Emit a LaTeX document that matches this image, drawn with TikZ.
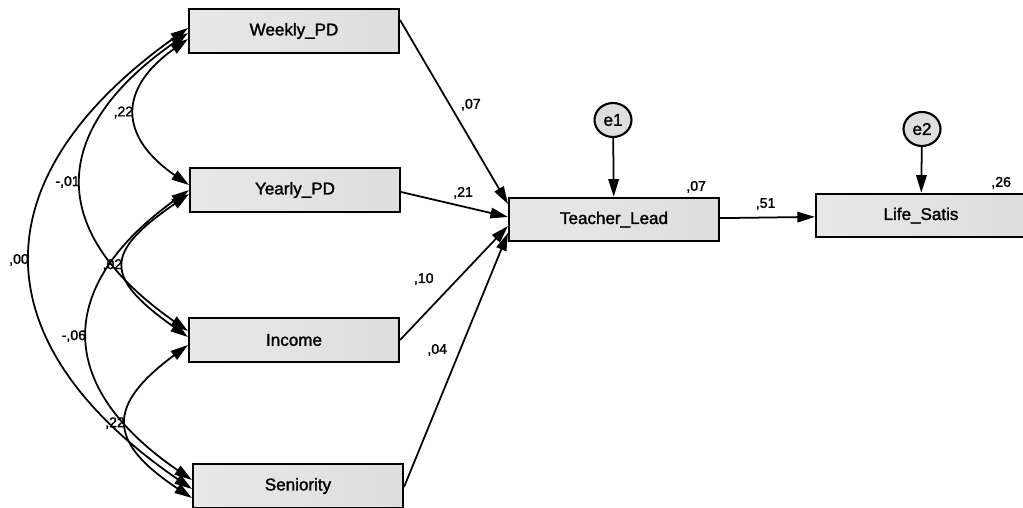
\documentclass[tikz,border=0pt]{standalone}
\usepackage{fontspec}
\setmainfont{Liberation Sans}
\newfontfamily\heavysans{Liberation Sans}[FakeBold=1.6]
\usetikzlibrary{shapes.geometric,calc,arrows.meta}

\begin{document}
\begin{tikzpicture}[x=0.02cm,y=0.02cm,>={Triangle[length=10pt,width=6pt]},
  var/.style={draw,line width=1.2pt,left color=black!9,right color=black!13,minimum width=4.2cm,minimum height=0.87cm,font=\heavysans\fontsize{9.7}{11}\selectfont},
  err/.style={draw,ellipse,line width=1.2pt,fill=black!13,minimum width=0.74cm,minimum height=0.68cm,inner sep=0pt,font=\heavysans\fontsize{9.7}{11}\selectfont},
  coef/.style={font=\heavysans\fontsize{8}{9}\selectfont,inner sep=1pt},
  link/.style={->,line width=1pt},
  cov/.style={<->,line width=1pt}]
\useasboundingbox (0,0) rectangle (1023,-507);

% observed variables
\node[var] (weekly) at (294,-31) {Weekly\_PD};
\node[var] (yearly) at (295,-190) {Yearly\_PD};
\node[var] (income) at (294,-340) {Income};
\node[var] (senior) at (298,-486) {Seniority};
\node[var] (lead) at (614,-219.5) {Teacher\_Lead};
\node[var] (life) at (921,-215.5) {Life\_Satis};

% errors
\node[err] (e1) at (613,-120) {e1};
\node[err] (e2) at (922,-129) {e2};

% paths
\draw[link] ($(weekly.east)+(0,11)$) -- node[coef,pos=0.46,right=5pt] (c1) {,07} ($(lead.west)+(0,15.5)$);
\draw[link] ($(yearly.east)+(0,-2)$) -- node[coef,pos=0.58,above=3pt] (c2) {,21} ($(lead.west)+(0,2.5)$);
\draw[link] (income.east) -- node[coef,pos=0.4,above left=4pt] (c3) {,10} ($(lead.west)+(0,-6.5)$);
\draw[link] ($(senior.east)+(0,-1)$) -- node[coef,pos=0.54,left=6pt] (c4) {,04} ($(lead.west)+(0,-13.5)$);
\draw[link] (lead) -- node[coef,pos=0.48,above=3pt] (c5) {,51} (life);
\draw[link] (e1) -- (lead);
\draw[link] (e2) -- (life);

% squared multiple correlations
\node[coef,anchor=south east] (r1) at ($(lead.north east)+(-12,2)$) {,07};
\node[coef,anchor=south east] (r2) at ($(life.north east)+(-14,2)$) {,26};

% covariances
\draw[cov] ($(weekly.west)+(0,-8)$) to[bend right=55,looseness=1.5] node[coef,left] (k1) {,22} ($(yearly.west)+(0,5)$);
\draw[cov] ($(weekly.west)+(0,-2)$) to[bend right=55,looseness=1.48] node[coef,left] (k2) {-,01} ($(income.west)+(0,9)$);
\draw[cov] ($(weekly.west)+(0,3)$) to[bend right=55,looseness=1.43] node[coef,left] (k3) {,00} ($(senior.west)+(0,-3)$);
\draw[cov] ($(yearly.west)+(0,-4)$) to[bend right=55,looseness=1.85] node[coef,left] (k4) {,02} ($(income.west)+(0,3)$);
\draw[cov] (yearly.west) to[bend right=55,looseness=1.46] node[coef,left] (k5) {-,06} ($(senior.west)+(0,6)$);
\draw[cov] ($(income.west)+(0,-5)$) to[bend right=55,looseness=1.7] node[coef,left] (k6) {,22} ($(senior.west)+(0,-12)$);
\end{tikzpicture}
\end{document}
